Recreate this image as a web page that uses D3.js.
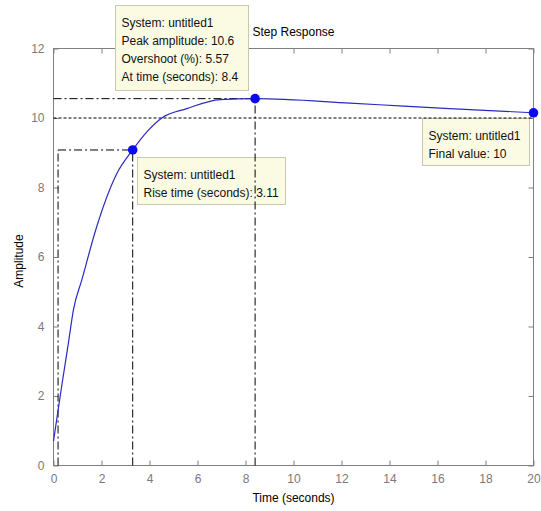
<!DOCTYPE html>
<html>
<head>
<meta charset="utf-8">
<script src="https://cdn.jsdelivr.net/npm/d3@7"></script>
<style>
  html, body { margin: 0; padding: 0; background: #fff; }
  svg { display: block; font-family: "Liberation Sans", Arial, sans-serif; }
</style>
</head>
<body>
<svg id="chart" width="541" height="511"></svg>
<script>
// Step response samples (time in seconds, amplitude)
const timeSec   = [0, 0.34, 0.62, 0.83, 1.18, 1.80, 2.64, 3.30, 3.89, 4.51, 5.55, 6.94, 8.40, 12.36, 14.6, 16.5, 20];
const amplitude = [0.70, 2.28, 3.52, 4.48, 5.34, 6.87, 8.40, 9.08, 9.60, 10.00, 10.27, 10.53, 10.557, 10.43, 10.34, 10.27, 10.15];

// Axis ticks
const xTicks = [0, 2, 4, 6, 8, 10, 12, 14, 16, 18, 20];
const yTicks = [0, 2, 4, 6, 8, 10, 12];

// Response characteristics
const finalValue  = 10;
const riseStart   = 0.19;   // 10% crossing
const riseEnd     = 3.30;   // 90% crossing
const riseLevel   = 9.08;
const riseTime    = 3.11;
const peakTime    = 8.4;
const peakAmp     = 10.557;
const overshoot   = 5.57;
const endTime     = 20;
const endAmp      = 10.15;

// Data tip texts
const peakTip  = ["System: untitled1", "Peak amplitude: 10.6", "Overshoot (%): 5.57", "At time (seconds): 8.4"];
const riseTip  = ["System: untitled1", "Rise time (seconds): 3.11"];
const finalTip = ["System: untitled1", "Final value: 10"];

const svg = d3.select("#chart");
const axisGray = "#808080";
const plotL = 53.5, plotR = 533.5, plotT = 48.5, plotB = 465.5;

const x = d3.scaleLinear().domain([0, 20]).range([plotL, plotR]);
const y = d3.scaleLinear().domain([0, 12]).range([plotB, plotT]);

// Plot box
svg.append("rect")
  .attr("x", plotL).attr("y", plotT)
  .attr("width", plotR - plotL).attr("height", plotB - plotT)
  .attr("fill", "#fff").attr("stroke", axisGray).attr("stroke-width", 1);

function styleAxis(g, hideLabels) {
  g.select(".domain").remove();
  g.selectAll(".tick line").attr("stroke", axisGray);
  g.selectAll(".tick text")
    .attr("fill", "#7a7a7a")
    .style("font-size", "12px")
    .style("font-family", "'Liberation Sans', Arial, sans-serif");
  if (hideLabels) g.selectAll(".tick text").remove();
}

// Bottom / top axes (inward ticks)
svg.append("g").attr("transform", `translate(0,${plotB})`)
  .call(d3.axisBottom(x).tickValues(xTicks).tickSizeInner(-5).tickSizeOuter(0).tickPadding(9).tickFormat(d3.format("d")))
  .call(g => styleAxis(g, false));
svg.append("g").attr("transform", `translate(0,${plotT})`)
  .call(d3.axisTop(x).tickValues(xTicks).tickSizeInner(-5).tickSizeOuter(0))
  .call(g => styleAxis(g, true));

// Left / right axes
svg.append("g").attr("transform", `translate(${plotL},0)`)
  .call(d3.axisLeft(y).tickValues(yTicks).tickSizeInner(-5).tickSizeOuter(0).tickPadding(9).tickFormat(d3.format("d")))
  .call(g => styleAxis(g, false));
svg.append("g").attr("transform", `translate(${plotR},0)`)
  .call(d3.axisRight(y).tickValues(yTicks).tickSizeInner(-5).tickSizeOuter(0))
  .call(g => styleAxis(g, true));

// Titles
svg.append("text").attr("x", (plotL + plotR) / 2).attr("y", 36)
  .attr("text-anchor", "middle").style("font-size", "12px").attr("fill", "#000")
  .text("Step Response");
svg.append("text").attr("x", (plotL + plotR) / 2).attr("y", 502)
  .attr("text-anchor", "middle").style("font-size", "12px").attr("fill", "#000")
  .text("Time (seconds)");
svg.append("text").attr("transform", `translate(23,261) rotate(-90)`)
  .attr("text-anchor", "middle").style("font-size", "12px").attr("fill", "#000")
  .text("Amplitude");

// Data tip boxes
function dataTip(bx, by, w, h, lines) {
  const g = svg.append("g");
  g.append("rect").attr("x", bx).attr("y", by).attr("width", w).attr("height", h)
    .attr("fill", "#fbfbe4").attr("stroke", "#c8c8b0").attr("stroke-width", 1);
  g.selectAll("text").data(lines).join("text")
    .attr("x", bx + 6).attr("y", (d, i) => by + 21.5 + i * 18)
    .style("font-size", "12px").attr("fill", "#111")
    .text(d => d);
}
dataTip(115.5, 5.5, 133, 85, peakTip);
dataTip(137.5, 157.5, 148, 47, riseTip);
dataTip(422.5, 118.5, 107, 47, finalTip);

// Characteristic guide lines
const dashDot = "8,3,2,3";
const guides = [
  // peak
  { x1: 0, y1: peakAmp, x2: peakTime, y2: peakAmp, dash: dashDot },
  { x1: peakTime, y1: 0, x2: peakTime, y2: peakAmp, dash: dashDot },
  // rise
  { x1: riseStart, y1: riseLevel, x2: riseEnd, y2: riseLevel, dash: dashDot },
  { x1: riseStart, y1: 0, x2: riseStart, y2: riseLevel, dash: dashDot },
  { x1: riseEnd, y1: 0, x2: riseEnd, y2: riseLevel, dash: dashDot },
  // final value
  { x1: 0, y1: finalValue, x2: endTime, y2: finalValue, dash: "3,2" }
];
svg.append("g").selectAll("line").data(guides).join("line")
  .attr("x1", d => x(d.x1)).attr("y1", d => y(d.y1))
  .attr("x2", d => x(d.x2)).attr("y2", d => y(d.y2))
  .attr("stroke", "#000").attr("stroke-width", 1)
  .attr("stroke-dasharray", d => d.dash);

// Response curve
const pts = timeSec.map((t, i) => [t, amplitude[i]]);
svg.append("path").datum(pts)
  .attr("fill", "none").attr("stroke", "#2a2ac0").attr("stroke-width", 1.2)
  .attr("d", d3.line().curve(d3.curveMonotoneX).x(d => x(d[0])).y(d => y(d[1])));

// Marker points
const markers = [[riseEnd, riseLevel], [peakTime, peakAmp], [endTime, endAmp]];
svg.append("g").selectAll("circle").data(markers).join("circle")
  .attr("cx", d => x(d[0])).attr("cy", d => y(d[1])).attr("r", 4.8)
  .attr("fill", "#0a0af0");
</script>
</body>
</html>
